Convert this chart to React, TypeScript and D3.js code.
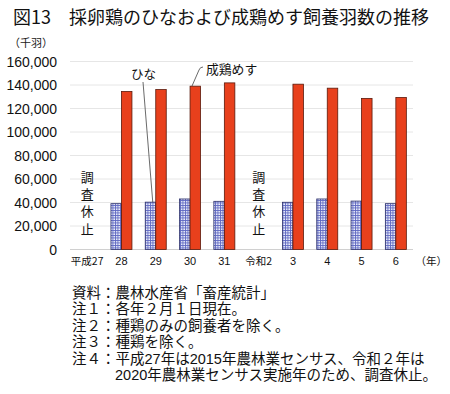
import React from "react";
import * as d3 from "d3";

const categories = ["平成27", "28", "29", "30", "31", "令和2", "3", "4", "5", "6"];
const hinaValues: (number | null)[] = [null, 39000, 40300, 43000, 41000, null, 40200, 43000, 41200, 39000];
const hensuValues: (number | null)[] = [null, 134500, 136100, 139000, 141800, null, 140700, 137300, 128600, 129400];
const yTicks = [0, 20000, 40000, 60000, 80000, 100000, 120000, 140000, 160000];
const notes = [
  "資料：農林水産省「畜産統計」",
  "注１：各年２月１日現在。",
  "注２：種鶏のみの飼養者を除く。",
  "注３：種鶏を除く。",
  "注４：平成27年は2015年農林業センサス、令和２年は",
];
const noteCont = "2020年農林業センサス実施年のため、調査休止。";
const suspended = ["調", "査", "休", "止"];

const W = 450, H = 394;
const JP = "'Noto Sans CJK JP', 'Noto Sans', sans-serif";
const LAT = "'Liberation Sans', Arial, sans-serif";
const MIX = "'Liberation Sans', 'Noto Sans CJK JP', sans-serif";

export default function App() {
  const x = d3.scaleBand<string>().domain(categories).range([70, 413]);
  const y = d3.scaleLinear().domain([0, 160000]).range([249.5, 61.5]);
  const bw = 10.5;
  const fmt = d3.format(",");
  const c29 = x("29")! + x.bandwidth() / 2;
  return (
    <svg width={W} height={H} style={{ position: "absolute", left: 0, top: 0, background: "#fff" }}>
      <defs>
        <pattern id="hatch" width={2.5} height={2.5} patternUnits="userSpaceOnUse">
          <rect width={2.5} height={2.5} fill="#eef0fb" />
          <rect x={0} y={0} width={2.5} height={0.9} fill="#5f68c2" />
          <rect x={0} y={0} width={0.9} height={2.5} fill="#5f68c2" />
        </pattern>
      </defs>
      <text x={13} y={24} fontFamily={JP} fontSize={18} fill="#111">
        図13　採卵鶏のひなおよび成鶏めす飼養羽数の推移
      </text>
      <text x={9} y={47} fontFamily={JP} fontSize={11} fill="#222">（千羽）</text>
      {yTicks.map((t) => (
        <g key={t}>
          <line x1={70} x2={413} y1={y(t)} y2={y(t)} stroke={t === 0 ? "#d0d0d0" : "#e6e6e6"} strokeWidth={1} />
          <text x={57} y={y(t) + 5} textAnchor="end" fontFamily={LAT} fontSize={14} fill="#111">{fmt(t)}</text>
        </g>
      ))}
      {categories.map((c, i) => {
        const cx = x(c)! + x.bandwidth() / 2;
        const h = hinaValues[i];
        const r = hensuValues[i];
        return (
          <g key={c}>
            {h != null && (
              <rect x={cx - bw} y={y(h)} width={bw} height={y(0) - y(h)} fill="url(#hatch)" stroke="#2b2f6a" strokeWidth={0.8} />
            )}
            {r != null && (
              <rect x={cx} y={y(r)} width={bw} height={y(0) - y(r)} fill="#e8401c" stroke="#5a1a0c" strokeWidth={0.8} />
            )}
            <text x={cx} y={265} textAnchor="middle" fontFamily={c.length > 1 && isNaN(+c) ? JP : LAT} fontSize={c.length > 2 ? 10.5 : 11} fill="#111">{c}</text>
            {h == null && suspended.map((s, k) => (
              <text key={k} x={cx} y={182 + k * 17.2} textAnchor="middle" fontFamily={JP} fontSize={13} fill="#111">{s}</text>
            ))}
          </g>
        );
      })}
      <text x={447} y={265} textAnchor="end" fontFamily={JP} fontSize={10.5} fill="#111">（年）</text>
      {/* annotations */}
      <line x1={143} y1={82} x2={c29 - 3} y2={y(hinaValues[2]!)} stroke="#444" strokeWidth={0.8} />
      <text x={131} y={79} fontFamily={JP} fontSize={12.5} fill="#111">ひな</text>
      <path d="M192,86 L199,70 Q200,67 203,67" fill="none" stroke="#444" strokeWidth={0.8} />
      <text x={206} y={73.5} fontFamily={JP} fontSize={12.8} fill="#111">成鶏めす</text>
      {notes.map((n, i) => (
        <text key={i} x={72} y={298 + i * 16.4} fontFamily={MIX} fontSize={14.5} fill="#111">{n}</text>
      ))}
      <text x={115} y={298 + 5 * 16.4} fontFamily={MIX} fontSize={14.5} fill="#111">{noteCont}</text>
    </svg>
  );
}
